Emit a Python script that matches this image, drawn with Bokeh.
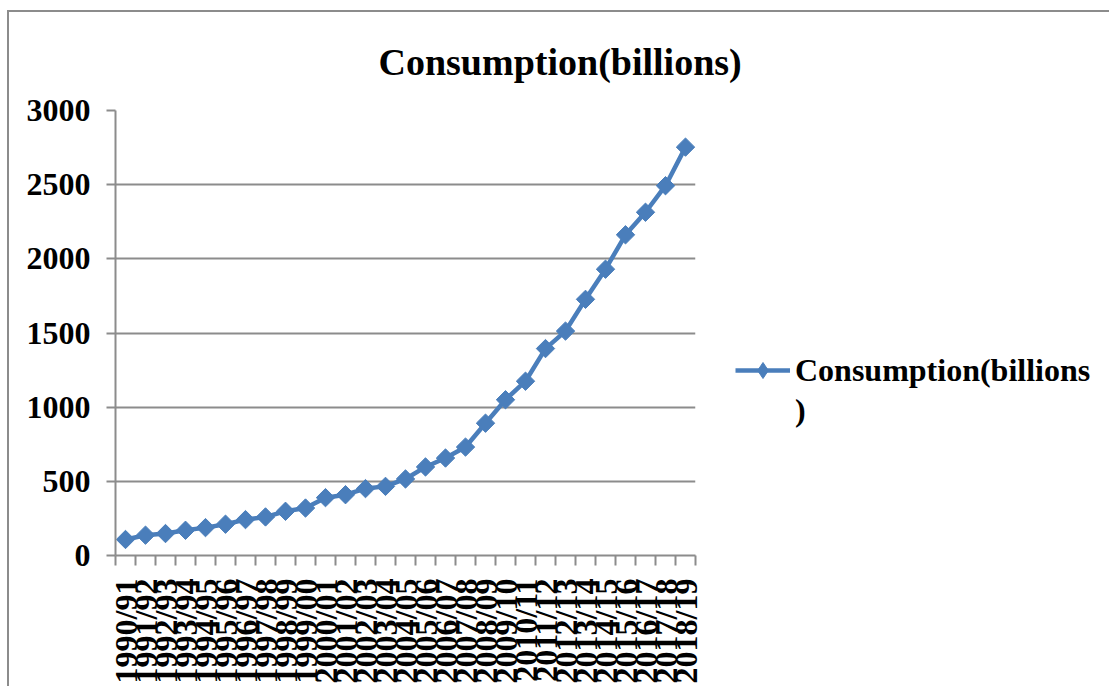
import math
import numpy as np
from bokeh.plotting import figure
from bokeh.models import (Range1d, FixedTicker, Legend, LegendItem, ColumnDataSource)
from bokeh.embed import file_html
from bokeh.resources import INLINE

# Fiscal years and consumption (billions)
years = ["1990/91", "1991/92", "1992/93", "1993/94", "1994/95", "1995/96",
         "1996/97", "1997/98", "1998/99", "1999/00", "2000/01", "2001/02",
         "2002/03", "2003/04", "2004/05", "2005/06", "2006/07", "2007/08",
         "2008/09", "2009/10", "2010/11", "2011/12", "2012/13", "2013/14",
         "2014/15", "2015/16", "2016/17", "2017/18", "2018/19"]
consumption = [108, 137, 148, 170, 188, 211, 242, 260, 298, 320, 390, 410,
               451, 466, 516, 597, 657, 731, 892, 1050, 1175, 1395, 1513,
               1727, 1930, 2162, 2314, 2493, 2753]
y_ticks = [0, 500, 1000, 1500, 2000, 2500, 3000]
series_name = "Consumption(billions)"
# the legend label wraps after "billions"
legend_lines = ["Consumption(billions", ")"]

FONT = "Liberation Serif"
BLUE = "#4a7ebb"
GREY = "#8c8c8c"

n = len(years)
centers = (np.arange(n) + 0.5).tolist()
edges = list(range(n + 1))

p = figure(frame_width=580, frame_height=445,
           x_range=Range1d(0, n), y_range=Range1d(0, 3000),
           output_backend="svg", toolbar_location=None,
           min_border_left=106, min_border_top=98, min_border_right=414,
           min_border_bottom=0)
p.margin = (10, 0, 0, 7)
p.styles = {"border-left": f"2px solid {GREY}", "border-top": f"2px solid {GREY}"}

p.outline_line_color = None
p.background_fill_color = "white"
p.border_fill_color = "white"

# title
p.title.text = series_name
p.title.text_font = FONT
p.title.text_font_size = "38px"
p.title.text_font_style = "bold"
p.title.text_color = "black"
p.title.align = "left"
p.title.vertical_align = "top"
p.title.offset = 263
p.title.standoff = 52

# grid
p.xgrid.visible = False
p.ygrid.ticker = FixedTicker(ticks=y_ticks)
p.ygrid.grid_line_color = GREY
p.ygrid.grid_line_width = 2

# y axis
ya = p.yaxis[0]
ya.ticker = FixedTicker(ticks=y_ticks)
ya.axis_line_color = GREY
ya.axis_line_width = 2
ya.major_tick_line_color = GREY
ya.major_tick_line_width = 2
ya.major_tick_in = 0
ya.major_tick_out = 9
ya.minor_tick_line_color = None
ya.major_label_text_font = FONT
ya.major_label_text_font_size = "32px"
ya.major_label_text_font_style = "bold"
ya.major_label_text_color = "black"
ya.major_label_standoff = 16

# x axis: labels at category centres, ticks at category boundaries
xa = p.xaxis[0]
xa.ticker = FixedTicker(ticks=centers, minor_ticks=edges)
xa.major_label_overrides = {c: y for c, y in zip(centers, years)}
xa.axis_line_color = GREY
xa.axis_line_width = 2
xa.major_tick_in = 0
xa.major_tick_out = 0
xa.minor_tick_in = 0
xa.minor_tick_out = 10
xa.minor_tick_line_color = GREY
xa.minor_tick_line_width = 2
xa.major_label_orientation = math.pi / 2
xa.major_label_text_font = FONT
xa.major_label_text_font_size = "32px"
xa.major_label_text_font_style = "bold"
xa.major_label_text_color = "black"
xa.major_label_standoff = 13

line = p.line(centers, consumption, line_color=BLUE, line_width=4.5)
pts = p.scatter(centers, consumption, marker="square", size=13, angle=math.pi / 4,
                fill_color=BLUE, line_color=BLUE)

# legend key: line with a diamond; the wrapped ")" sits on its own row with no key
blank = ColumnDataSource(data=dict(x=[float("nan")], y=[float("nan")]))
key_marker = p.scatter("x", "y", source=blank, marker="diamond",
                       fill_color=BLUE, line_color=BLUE)
no_key = p.line("x", "y", source=blank, line_alpha=0)

legend = Legend(items=[LegendItem(label=legend_lines[0], renderers=[line, key_marker]),
                       LegendItem(label=legend_lines[1], renderers=[no_key])],
                location=(40, 125), margin=0, padding=0, spacing=0,
                border_line_color=None, background_fill_alpha=0,
                glyph_width=55, glyph_height=40, label_height=40,
                label_standoff=5, label_text_font=FONT, label_text_font_size="32px",
                label_text_font_style="bold", label_text_color="black")
p.add_layout(legend, "right")

open("out.html", "w").write(file_html(p, INLINE))
